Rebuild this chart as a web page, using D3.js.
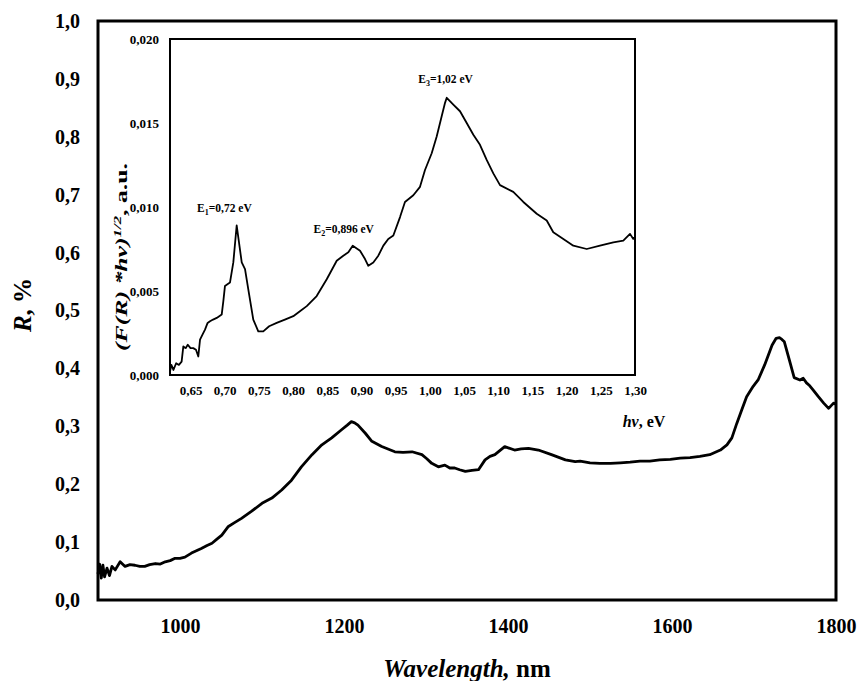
<!DOCTYPE html>
<html><head><meta charset="utf-8">
<script src="https://cdn.jsdelivr.net/npm/d3@7"></script>
<style>body{margin:0;background:#fff}svg{display:block}text{font-family:"Liberation Serif","Times New Roman",serif;font-weight:bold}</style>
</head><body><svg id="c" width="860" height="681"></svg>
<script>
// Main spectrum: wavelength (nm) vs R (%)
const mainWl = [900,902,904,906,908,911,914,917,921,927,933,939,945,951,957,963,970,976,982,988,994,1000,1006,1014,1020,1026,1033,1039,1045,1051,1059,1067,1075,1087,1100,1112,1124,1136,1148,1161,1173,1185,1197,1204,1209,1213,1217,1226,1234,1246,1262,1272,1283,1295,1301,1307,1315,1323,1329,1335,1341,1348,1356,1364,1372,1378,1384,1396,1408,1416,1425,1437,1453,1470,1482,1488,1500,1512,1525,1537,1549,1561,1573,1585,1598,1610,1622,1634,1646,1659,1667,1673,1679,1685,1691,1699,1705,1713,1722,1727,1731,1734,1737,1743,1749,1756,1760,1764,1768,1772,1778,1785,1791,1797,1800];
const mainR  = [0.045,0.062,0.038,0.060,0.040,0.055,0.042,0.058,0.052,0.066,0.058,0.061,0.060,0.058,0.058,0.061,0.063,0.062,0.066,0.068,0.072,0.072,0.074,0.081,0.085,0.089,0.094,0.098,0.105,0.112,0.127,0.134,0.141,0.153,0.167,0.176,0.190,0.207,0.230,0.251,0.268,0.280,0.294,0.302,0.308,0.306,0.302,0.288,0.274,0.265,0.256,0.255,0.256,0.251,0.244,0.236,0.230,0.233,0.228,0.228,0.225,0.222,0.224,0.225,0.242,0.248,0.251,0.265,0.259,0.261,0.262,0.259,0.251,0.242,0.239,0.240,0.237,0.236,0.236,0.237,0.238,0.240,0.240,0.242,0.243,0.245,0.246,0.248,0.251,0.259,0.268,0.280,0.305,0.328,0.351,0.369,0.380,0.406,0.440,0.452,0.453,0.450,0.446,0.415,0.384,0.380,0.383,0.375,0.370,0.363,0.352,0.340,0.331,0.340,0.338];
const mainYTicks = [0,0.1,0.2,0.3,0.4,0.5,0.6,0.7,0.8,0.9,1.0];
const mainXTicks = [1000,1200,1400,1600,1800];

// Inset: photon energy (eV) vs (F(R)*hv)^1/2 (a.u.)
const insE = [0.620,0.622,0.625,0.629,0.633,0.637,0.6395,0.643,0.646,0.650,0.654,0.658,0.6614,0.6639,0.6675,0.6712,0.675,0.6785,0.683,0.6883,0.692,0.6956,0.698,0.7004,0.704,0.7077,0.7126,0.7175,0.7249,0.7297,0.7345,0.7418,0.7491,0.7564,0.765,0.776,0.788,0.8003,0.81,0.820,0.8345,0.8492,0.8638,0.8734,0.8808,0.8872,0.8979,0.9052,0.910,0.9173,0.9246,0.932,0.9392,0.9466,0.9564,0.9636,0.9758,0.9856,0.9929,1.0027,1.010,1.0173,1.0222,1.0247,1.0343,1.0441,1.0539,1.0636,1.0733,1.0831,1.0928,1.1026,1.1220,1.1367,1.1563,1.1709,1.1805,1.1952,1.2098,1.2294,1.2488,1.2683,1.2829,1.2927,1.2975,1.300];
const insV = [0.0002,0.0006,0.0003,0.0007,0.0006,0.0008,0.0017,0.0016,0.0018,0.0016,0.0016,0.0015,0.0011,0.0021,0.0024,0.0027,0.0031,0.0032,0.0033,0.0034,0.0035,0.0036,0.0044,0.0053,0.0054,0.0055,0.0067,0.0089,0.0067,0.0063,0.0051,0.0033,0.0026,0.0026,0.0029,0.0031,0.0033,0.0035,0.0038,0.0041,0.0047,0.0057,0.0068,0.0071,0.0073,0.0077,0.0074,0.0069,0.0065,0.0067,0.0071,0.0077,0.0081,0.0083,0.0094,0.0103,0.0107,0.0112,0.0122,0.0132,0.0142,0.0154,0.0162,0.0165,0.0161,0.0157,0.0150,0.0143,0.0137,0.0128,0.0120,0.0113,0.0109,0.0103,0.0096,0.0092,0.0085,0.0081,0.0077,0.0075,0.0077,0.0079,0.0080,0.0084,0.0081,0.0082];
const insYTicks = [0,0.005,0.010,0.015,0.020];
const insXTicks = [0.65,0.70,0.75,0.80,0.85,0.90,0.95,1.00,1.05,1.10,1.15,1.20,1.25,1.30];
const peakLabels = [
  {sub:"1", val:"0,72", e:0.72, v:0.0089},
  {sub:"2", val:"0,896", e:0.896, v:0.0077},
  {sub:"3", val:"1,02", e:1.02, v:0.0165}
];

const svg = d3.select("#c");
const comma = (d, n) => d.toFixed(n).replace(".", ",");

// ---- main chart ----
const M = {l:98, t:21, r:836, b:600};
const x = d3.scaleLinear().domain([900,1800]).range([M.l, M.r]);
const y = d3.scaleLinear().domain([0,1]).range([M.b, M.t]);

svg.append("rect").attr("x",M.l).attr("y",M.t).attr("width",M.r-M.l).attr("height",M.b-M.t)
  .attr("fill","#fff").attr("stroke","#000").attr("stroke-width",3);

const yAx = svg.append("g").attr("transform",`translate(${M.l},0)`)
  .call(d3.axisLeft(y).tickValues(mainYTicks).tickSize(0).tickPadding(18).tickFormat(d=>comma(d,1)));
yAx.select(".domain").remove();
yAx.selectAll("text").attr("font-size",20).attr("font-family",null);

const xAx = svg.append("g").attr("transform",`translate(0,${M.b})`)
  .call(d3.axisBottom(x).tickValues(mainXTicks).tickSize(0).tickPadding(19).tickFormat(d3.format("d")));
xAx.select(".domain").remove();
xAx.selectAll("text").attr("font-size",20).attr("font-family",null);

svg.append("path").datum(mainWl.map((w,i)=>[w,mainR[i]]))
  .attr("fill","none").attr("stroke","#000").attr("stroke-width",2.8).attr("stroke-linejoin","round")
  .attr("d", d3.line().x(d=>x(d[0])).y(d=>y(d[1])));

const xt = svg.append("text").attr("x",467).attr("y",677).attr("text-anchor","middle").attr("font-size",25);
xt.append("tspan").attr("font-style","italic").text("Wavelength,");
xt.append("tspan").text(" nm");

const yt = svg.append("text").attr("transform","translate(31,305) rotate(-90)").attr("text-anchor","middle").attr("font-size",25);
yt.append("tspan").attr("font-style","italic").text("R");
yt.append("tspan").text(", %");

// ---- inset ----
const I = {l:170, t:39, r:635, b:375};
const xi = d3.scaleLinear().domain([0.62,1.30]).range([I.l, I.r]);
const yi = d3.scaleLinear().domain([0,0.020]).range([I.b, I.t]);

svg.append("rect").attr("x",I.l).attr("y",I.t).attr("width",I.r-I.l).attr("height",I.b-I.t)
  .attr("fill","#fff").attr("stroke","#000").attr("stroke-width",2);

const yiAx = svg.append("g").attr("transform",`translate(${I.l},0)`)
  .call(d3.axisLeft(yi).tickValues(insYTicks).tickSize(0).tickPadding(11).tickFormat(d=>comma(d,3)));
yiAx.select(".domain").remove();
yiAx.selectAll("text").attr("font-size",13).attr("font-family",null);

const xiAx = svg.append("g").attr("transform",`translate(0,${I.b})`)
  .call(d3.axisBottom(xi).tickValues(insXTicks).tickSize(0).tickPadding(11).tickFormat(d=>comma(d,2)));
xiAx.select(".domain").remove();
xiAx.selectAll("text").attr("font-size",13).attr("font-family",null);

svg.append("path").datum(insE.map((e,i)=>[e,insV[i]]))
  .attr("fill","none").attr("stroke","#000").attr("stroke-width",1.8).attr("stroke-linejoin","round")
  .attr("d", d3.line().x(d=>xi(d[0])).y(d=>yi(d[1])));

const offs = [[-14,-13],[-15,-13],[2,-15]];
peakLabels.forEach((p,i)=>{
  const t = svg.append("text").attr("x",xi(p.e)+offs[i][0]).attr("y",yi(p.v)+offs[i][1])
    .attr("text-anchor","middle").attr("font-size",11.5);
  t.append("tspan").text("E");
  t.append("tspan").attr("font-size",8).attr("dy",3).text(p.sub);
  t.append("tspan").attr("dy",-3).text("="+p.val+" eV");
});

const hv = svg.append("text").attr("x",644).attr("y",427).attr("text-anchor","middle").attr("font-size",16);
hv.append("tspan").attr("font-style","italic").text("hv");
hv.append("tspan").text(", eV");

const yil = svg.append("text").attr("transform","translate(127,257) rotate(-90)").attr("text-anchor","middle")
  .attr("font-size",16).attr("textLength",188).attr("lengthAdjust","spacingAndGlyphs");
yil.append("tspan").attr("font-style","italic").text("(F(R) *hv)");
yil.append("tspan").attr("font-style","italic").attr("font-size",10.5).attr("dy",-6).text("1/2");
yil.append("tspan").attr("dy",6).text(", a.u.");
</script></body></html>
